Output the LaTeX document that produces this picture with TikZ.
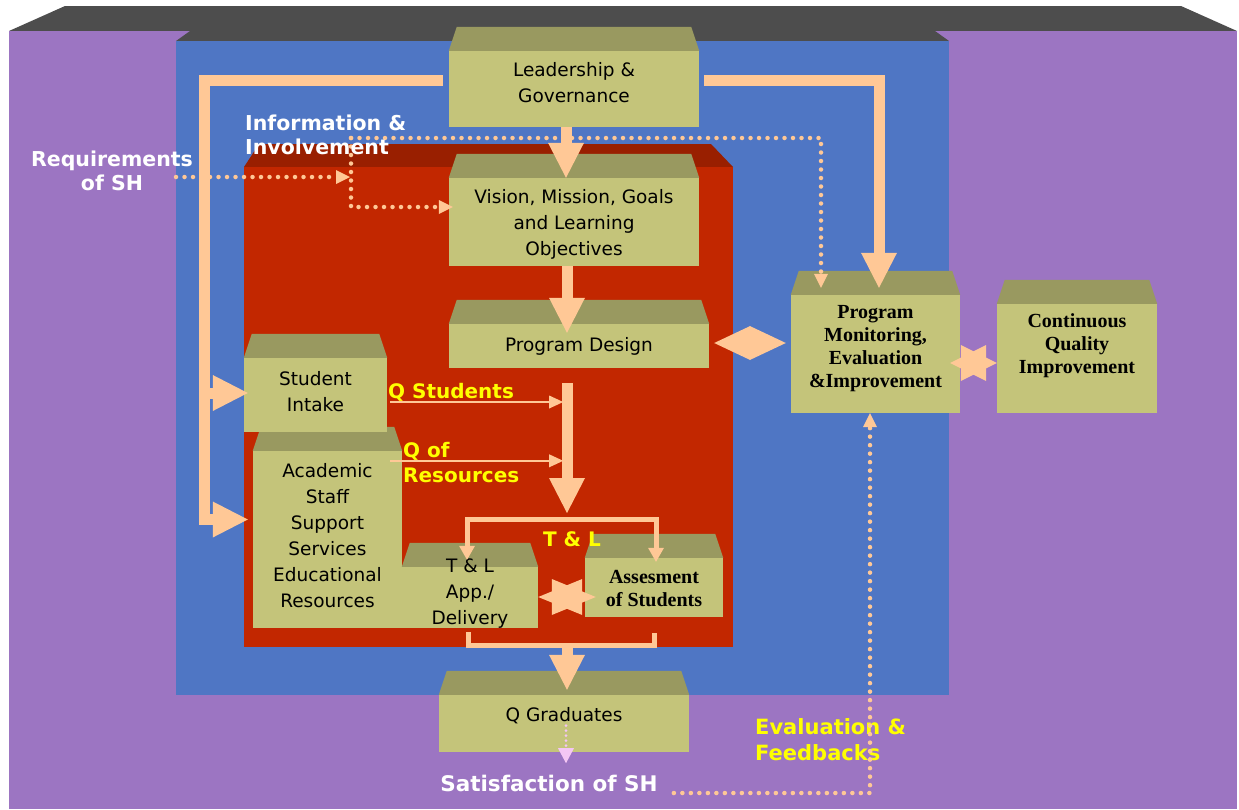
\documentclass[tikz,border=0pt]{standalone}
\usepackage{fontspec}
\usetikzlibrary{arrows.meta,calc}
\newfontfamily\boxfont{DejaVu Sans}
\newfontfamily\serfont{Liberation Serif}

\definecolor{bgpurple}{RGB}{156,117,194}
\definecolor{panelblue}{RGB}{79,118,196}
\definecolor{corered}{RGB}{194,39,0}
\definecolor{coretop}{RGB}{153,31,0}
\definecolor{lidgray}{RGB}{77,77,77}
\definecolor{oliveface}{RGB}{196,196,122}
\definecolor{olivetop}{RGB}{153,153,96}
\definecolor{oliverim}{RGB}{230,230,140}
\definecolor{flowcol}{RGB}{255,200,150}
\definecolor{satpink}{RGB}{244,198,244}
\definecolor{labyellow}{RGB}{255,255,0}

\tikzset{
  box/.style={fill=oliveface, inner sep=0pt, append after command={\pgfextra{
      \fill[olivetop] (\tikzlastnode.north west) -- ([xshift=8pt,yshift=24pt]\tikzlastnode.north west)
        -- ([xshift=-8pt,yshift=24pt]\tikzlastnode.north east) -- (\tikzlastnode.north east) -- cycle;
      \draw[oliverim, line width=2.5pt] ([xshift=-1.25pt]\tikzlastnode.north east)
        -- ([xshift=-1.25pt]\tikzlastnode.south east);}}},
  sanstxt/.style={font=\boxfont\fontsize{18.5}{26}\selectfont, align=center},
  sertxt/.style={font=\serfont\bfseries\fontsize{20}{23}\selectfont, align=center},
  wlab/.style={font=\boxfont\bfseries\fontsize{20.5}{24}\selectfont, text=white, inner sep=0pt},
  ylab/.style={font=\boxfont\bfseries\fontsize{20}{25}\selectfont, text=labyellow, inner sep=0pt, align=left},
  fat/.style={draw=flowcol, line width=11pt, -{Triangle[width=36pt,length=35pt,line width=0pt]}},
  mid/.style={draw=flowcol, line width=5pt},
  midtip/.style={-{Triangle[width=16pt,length=14pt,line width=0pt]}},
  feed/.style={draw=flowcol, line width=2.5pt, -{Triangle[width=13pt,length=14pt,line width=0pt]}},
  dots/.style={draw=flowcol, line width=4.5pt, line cap=round, dash pattern=on 0pt off 8.5pt,
    -{Triangle[width=14pt,length=14pt,line width=0pt]}},
  pinkdots/.style={draw=satpink, line width=3pt, line cap=round, dash pattern=on 0pt off 5pt,
    -{Triangle[width=16pt,length=15pt,line width=0pt]}},
  twoway/.style={draw=flowcol, line width=0.5pt,
    {Triangle[width=34pt,length=36pt,line width=0pt]}-{Triangle[width=34pt,length=36pt,line width=0pt]}},
  hexstar/.style={draw=flowcol, line width=0.5pt,
    {Triangle[width=36pt,length=#1,line width=0pt]}-{Triangle[width=36pt,length=#1,line width=0pt]}}
}

\begin{document}
\begin{tikzpicture}[x=1pt, y=-1pt]
\useasboundingbox (0,0) rectangle (1239,809);

% backdrop: outer frame, blue panel, red core
\fill[lidgray] (9,31) -- (65,6) -- (1181,6) -- (1237,31) -- cycle;
\fill[bgpurple] (9,31) rectangle (1237,809);
\fill[lidgray] (176,41) -- (190,31) -- (935,31) -- (949,41) -- cycle;
\fill[panelblue] (176,41) rectangle (949,695);
\fill[coretop] (244,167) -- (259,144) -- (711,144) -- (733,167) -- cycle;
\fill[corered] (244,167) rectangle (733,647);

% boxes
\node[box, minimum width=250, minimum height=76] (lead) at (574,89) {};
\node[box, minimum width=250, minimum height=88] (vision) at (574,222) {};
\node[box, minimum width=260, minimum height=44] (design) at (579,346) {};
\node[box, minimum width=169, minimum height=118] (pmei) at (875.5,354) {};
\node[box, minimum width=160, minimum height=109] (cqi) at (1077,358.5) {};
\node[box, minimum width=149, minimum height=177] (acad) at (327.5,539.5) {};
\node[box, minimum width=143, minimum height=74] (intake) at (315.5,395) {};
\node[box, minimum width=136, minimum height=61] (tldel) at (470,597.5) {};
\node[box, minimum width=138, minimum height=59] (assess) at (654,587.5) {};
\node[box, minimum width=250, minimum height=57] (grad) at (564,723.5) {};

\node[sanstxt] (lead-t) at ([yshift=6]lead.center) {Leadership \&\\Governance};
\node[sanstxt] (vision-t) at ([yshift=-2]vision.center) {Vision, Mission, Goals\\and Learning\\Objectives};
\node[sanstxt] (design-t) at (design.center) {Program Design};
\node[sertxt] (pmei-t) at ([yshift=5.5]pmei.center) {Program\\Monitoring,\\Evaluation\\\&Improvement};
\node[sertxt] (cqi-t) at ([yshift=12.5]cqi.center) {Continuous\\Quality\\Improvement};
\node[sanstxt] (acad-t) at ([yshift=4]acad.center) {Academic\\Staff\\Support\\Services\\Educational\\Resources};
\node[sanstxt] (intake-t) at ([yshift=3.5]intake.center) {Student\\Intake};
\node[sanstxt] (tldel-t) at ([yshift=3.5]tldel.center) {T \& L\\App./\\Delivery};
\node[sertxt] (assess-t) at ([yshift=-1.5]assess.center) {Assesment\\of Students};
\node[sanstxt] (grad-t) at ([yshift=7.5]grad.center) {Q Graduates};

% junctions
\coordinate (reqout) at (176,177);
\coordinate (infoc) at (351,138);
\coordinate (spine) at (567,383);
\coordinate (split) at (567,519);
\coordinate (merge) at (567,645);

% thick flows
\draw[fat] ([xshift=-8]lead.south) -- ([xshift=-8]vision.north);
\draw[fat] ([xshift=-7]vision.south) -- ([xshift=-12,yshift=-9]design.north);
\draw[fat] ([xshift=-6,yshift=9]lead.west) -| ([xshift=-48,yshift=20]acad.west) -- ([xshift=-5,yshift=20]acad.west);
\draw[fat] ([xshift=-39,yshift=2]intake.west) -- ([xshift=4,yshift=2]intake.west);
\draw[fat] ([xshift=5,yshift=9]lead.east) -| ([xshift=3.5,yshift=7]pmei.north);
\draw[fat] (spine) -- ([yshift=6]split);
\draw[fat] (merge) -- ([xshift=3,yshift=5]grad.north);

% T & L brackets
\draw[mid, midtip] (split) -| ([xshift=-3,yshift=7]tldel.north);
\draw[mid, midtip] (split) -| ([xshift=2,yshift=-4]assess.north);
\draw[mid] ([xshift=-2,yshift=-4]tldel.south) |- (merge) -| ([yshift=-16]assess.south);

% inputs
\draw[feed] ([xshift=3,yshift=-7]intake.east) -- ++(173,0);
\draw[feed] ([xshift=-12,yshift=-10]acad.north east) -- ++(173,0);

% two-way links
\draw[twoway] ([xshift=5,yshift=3]design.east) -- ([xshift=-5,yshift=11]pmei.west);
\draw[hexstar=36pt] ([xshift=-10,yshift=-9]pmei.east) -- ([yshift=-4.5]cqi.west);
\draw[hexstar=44pt] ([yshift=0.5]tldel.east) -- ([xshift=11,yshift=-9.5]assess.west);

% dotted information paths
\draw[dots] (reqout) -- ++(174,0);
\draw[dots] (infoc) |- ([xshift=4,yshift=15]vision.west);
\draw[dots] (infoc) -| ([xshift=-54.5,yshift=7]pmei.north);
\draw[pinkdots] ([xshift=2,yshift=-2]grad.center) -- ([xshift=2,yshift=-11]grad.south);

% labels
\node[wlab, align=center] (req) at (112,171) {Requirements\\of SH};
\node[wlab, align=left, anchor=west] (info) at (245,134.5) {Information \&\\Involvement};
\node[ylab, anchor=west] (qstud) at (388,392) {Q Students};
\node[ylab, anchor=west] (qres) at (403,462.5) {Q of\\Resources};
\node[ylab] (tl) at (572,539) {T \& L};
\node[wlab, font=\boxfont\bfseries\fontsize{21.5}{26}\selectfont] (sat) at (549,783) {Satisfaction of SH};
\node[ylab, font=\boxfont\bfseries\fontsize{21}{26}\selectfont, anchor=west] (evalfb) at (755,740) {Evaluation \&\\Feedbacks};

\draw[dots] ([xshift=16,yshift=-10]sat.east) -| ([xshift=-5.5]pmei.south);
\end{tikzpicture}
\end{document}
